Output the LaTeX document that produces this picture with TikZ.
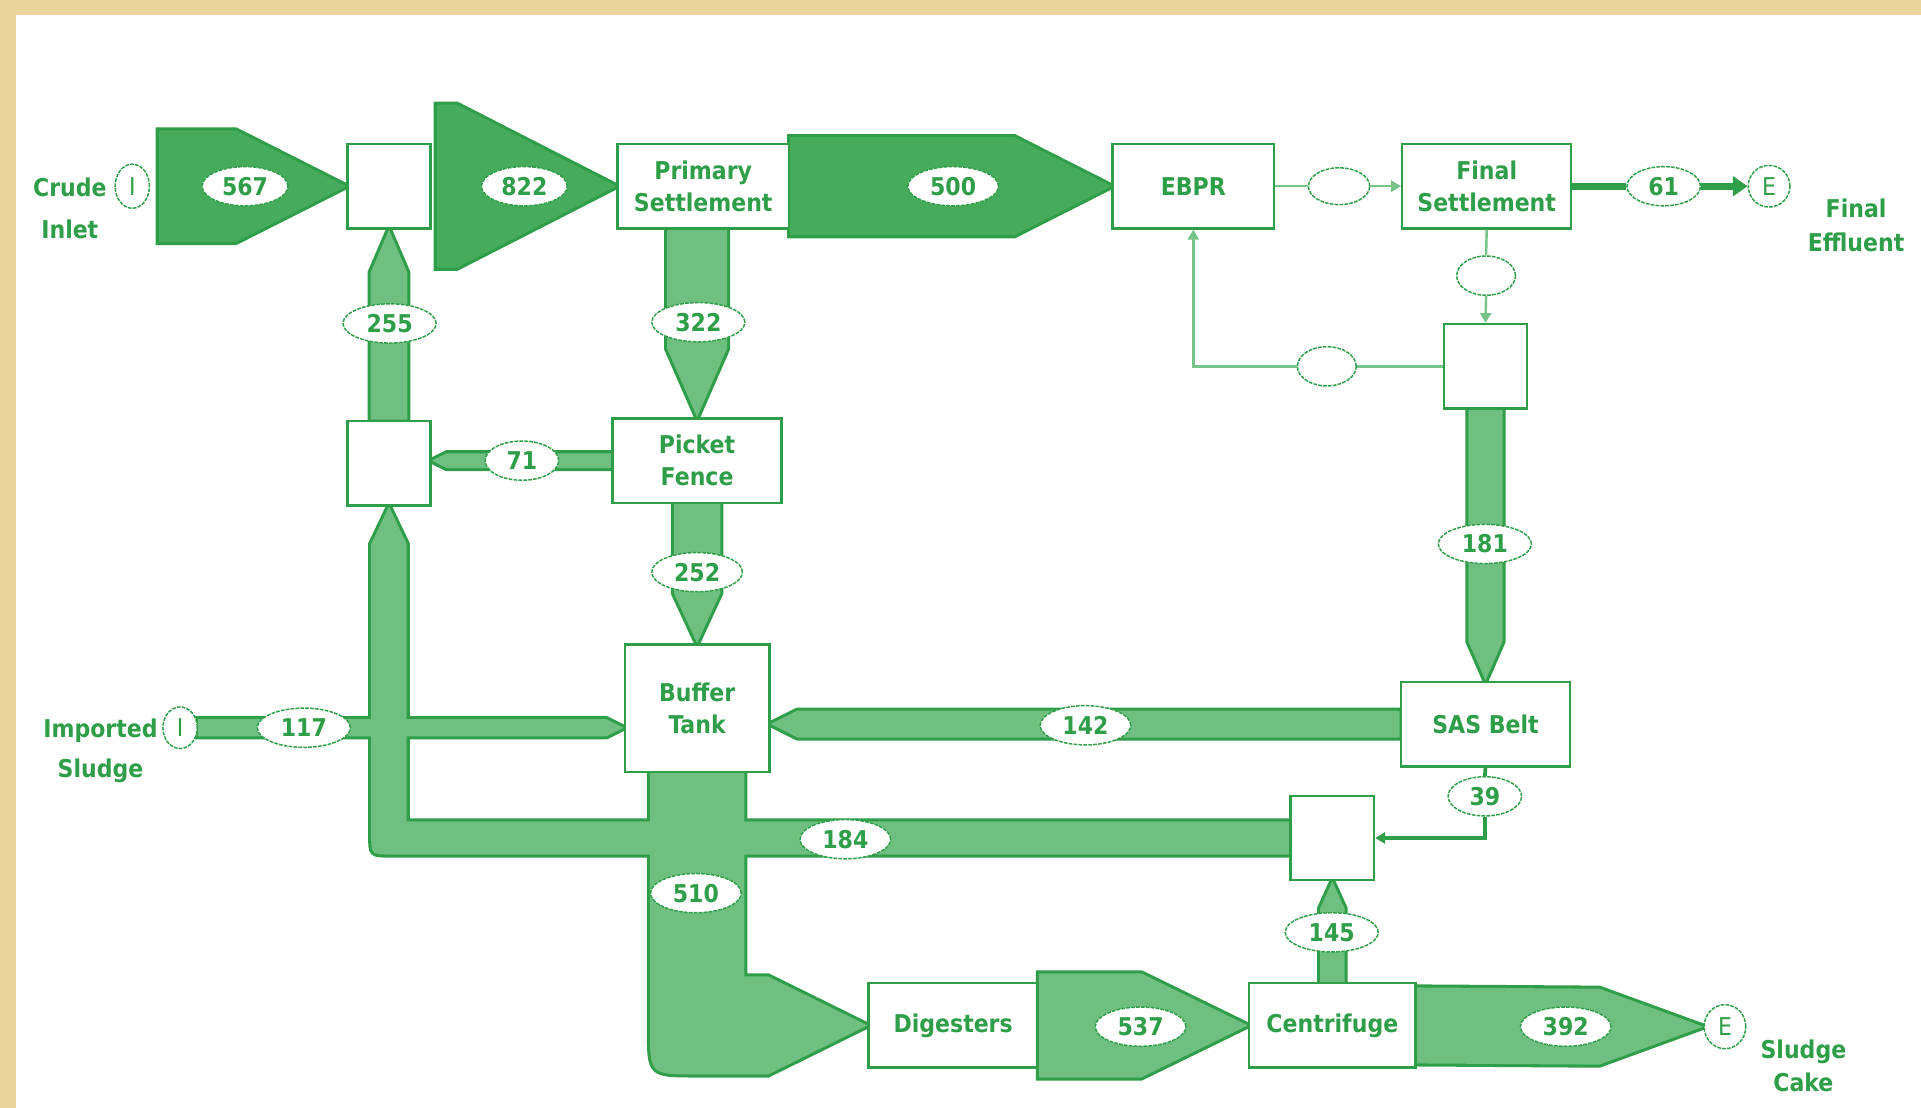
\documentclass[tikz,border=0pt]{standalone}
\usepackage{fontspec}
\setmainfont{DejaVu Sans Condensed}
\usetikzlibrary{shapes.geometric,positioning,calc,arrows.meta}

\definecolor{flowline}{RGB}{46,158,72}
\definecolor{flowdark}{RGB}{70,172,92}
\definecolor{flowlight}{RGB}{110,191,128}
\definecolor{thinline}{RGB}{118,195,136}
\definecolor{parch}{RGB}{234,212,158}

\pgfdeclarelayer{background}
\pgfsetlayers{background,main}

\newcommand{\boxfont}{\fontsize{20}{26}\selectfont\bfseries}

\newcommand{\hflow}[5]{%
  \filldraw[fill=#1, draw=\bandcol, line width=\bandw]
    ($(#2)+(0,-#4)$) -- ($(#3)+(#5,-#4)$) -- (#3) -- ($(#3)+(#5,#4)$) -- ($(#2)+(0,#4)$) -- cycle;}
\newcommand{\vflow}[5]{%
  \filldraw[fill=#1, draw=\bandcol, line width=\bandw]
    ($(#2)+(-#4,0)$) -- ($(#3)+(-#4,#5)$) -- (#3) -- ($(#3)+(#4,#5)$) -- ($(#2)+(#4,0)$) -- cycle;}

\begin{document}
\begin{tikzpicture}[x=1pt, y=-1pt,
    box/.style={draw=flowline, line width=2pt, fill=white, minimum width=138pt,
      minimum height=69pt, inner sep=0pt, align=center, text=flowline, font=\boxfont},
    junc/.style={box, minimum width=68pt},
    lbl/.style={ellipse, draw=flowline, fill=white, line width=1.2pt,
      dash pattern=on 3pt off 1pt, minimum width=74pt, minimum height=32pt,
      inner sep=0pt, text=flowline, font=\boxfont},
    port/.style={lbl, font=\fontsize{20}{24}\selectfont},
    side/.style={text=flowline, align=center, font=\boxfont},
    thinl/.style={draw=thinline, line width=2pt},
    tip/.style={-{Triangle[length=8pt, width=9pt]}}]

    \useasboundingbox (0,0) rectangle (1568,904);

    \node[port, minimum width=28pt, minimum height=36pt] (crudeI) at (108,152) {I};
    \node[port, minimum width=28pt, minimum height=34pt] (impI) at (147,594) {I};
    \node[port, minimum width=34pt, minimum height=34pt] (e1) at (1444,152) {E};
    \node[port, minimum width=34pt, minimum height=36pt] (e2) at (1408,838) {E};

    \node[side] (crude) at (57,170) {Crude\\[8pt]Inlet};
    \node[side] (imported) at (82,613) {Imported\\[7pt]Sludge};
    \node[side] (effluent) at (1515,184) {Final\\[2pt]Effluent};
    \node[side] (cake) at (1472,870) {Sludge\\[1pt]Cake};

    \node[junc] (j1) at (317.5,152) {};
    \node[box, minimum width=140pt] (ps) at (574,152) {Primary\\Settlement};
    \node[box, minimum width=132pt] (ebpr) at (974,152) {EBPR};
    \node[box] (fs) at (1213.5,152) {Final\\Settlement};
    \node[junc] (j2) at (1212.5,299) {};
    \node[junc] (j4) at (317.5,378) {};
    \node[box] (pf) at (569,376) {Picket\\Fence};
    \node[box, minimum width=118pt, minimum height=104pt] (bt) at (569,578) {Buffer\\Tank};
    \node[box] (sas) at (1212.5,591) {SAS Belt};
    \node[junc] (j3) at (1087.5,684) {};
    \node[box] (dig) at (778,837) {Digesters};
    \node[box, minimum width=136pt] (cen) at (1087.5,837) {Centrifuge};

    \coordinate (in567) at ($(crudeI.east)+(7,0)$);
    \coordinate (in822) at ($(j1.east)+(4,0)$);

    \begin{pgfonlayer}{background}
    \fill[parch] (0,0) rectangle (1568,904);
    \fill[white] (13,12) rectangle (1568,904);
    \foreach \pass in {1,2}{
        \ifnum \pass = 1
            \def\bandcol{flowline}\def\bandw{5pt}
        \else
            \def\bandcol{none}\def\bandw{0pt}
        \fi
        \hflow{flowdark}{in567}{j1.west}{45.5}{-90}
        \hflow{flowdark}{in822}{ps.west}{66.5}{-130}
        \hflow{flowdark}{ps.east}{ebpr.west}{40}{-79}
        \vflow{flowlight}{j4.north}{j1.south}{15}{35}
        \vflow{flowlight}{ps.south -| pf.north}{pf.north}{24.5}{-56}
        \hflow{flowlight}{pf.west}{j4.east |- pf.west}{6}{12}
        \vflow{flowlight}{pf.south}{bt.north}{19}{-41}
        \vflow{flowlight}{j2.south}{sas.north}{14}{-32}
        \hflow{flowlight}{sas.west}{bt.east |- sas.west}{11}{22}
        \hflow{flowlight}{impI.east}{bt.west |- impI.east}{7}{-14}
        \vflow{flowlight}{cen.north}{j3.south}{10}{22}
        \hflow{flowlight}{dig.east}{cen.west}{42.5}{-87}
        \hflow{flowlight}{cen.east}{e2.west}{31}{-85}
        \filldraw[fill=flowlight, draw=\bandcol, line width=\bandw]
            ($(j3.west)+(0,-13.5)$) -- (332,670.5) -- (332,444) -- (j4.south)
            -- (303,444) -- (303,682) .. controls (303,697.5) .. (319,697.5)
            -- ($(j3.west)+(0,13.5)$) -- cycle;
        \filldraw[fill=flowlight, draw=\bandcol, line width=\bandw]
            ($(bt.south)+(-38.5,0)$) -- ($(bt.south)+(38.5,0)$) -- (607.5,797)
            -- (627,797) -- (dig.west) -- (627,877) -- (568,877)
            .. controls (530.5,877) .. (530.5,840) -- cycle;
    }
    \end{pgfonlayer}

    \node[lbl, minimum width=50pt, minimum height=30pt] (eA) at (1093,152) {};
    \node[lbl, minimum width=48pt, minimum height=32pt] (eB) at (1213,225) {};
    \node[lbl, minimum width=48pt, minimum height=32pt] (eC) at (1083,299) {};

    \foreach \n/\x/\y/\w in {567/200/152/70, 822/428/152/70, 500/778/152/74,
        255/318/264/76, 322/570/263/76, 71/426/376/60, 252/569/467/74,
        181/1212/444/76, 142/886/592/74, 117/248/594/76, 184/690/685/74,
        510/568/729/74, 145/1087/761/76, 537/931/838/74, 392/1278/838/74,
        61/1358/152/60, 39/1212/650/60}{
        \node[lbl, minimum width=\w pt] (l\n) at (\x,\y) {\n};
    }

    \draw[thinl] (ebpr.east) -- (eA.west);
    \draw[thinl, tip] (eA.east) -- (fs.west);
    \draw[thinl] (fs.south) -- (eB.north);
    \draw[thinl, tip] (eB.south) -- (j2.north);
    \draw[thinl] (j2.west) -- (eC.east);
    \draw[thinl, tip] (eC.west) -| (ebpr.south);
    \draw[draw=flowline, line width=3pt] (sas.south) -- (l39.north);
    \draw[draw=flowline, line width=3pt, tip] (l39.south) |- (j3.east);
    \draw[draw=flowline, line width=6pt] (fs.east) -- (l61.west);
    \draw[draw=flowline, line width=6pt, -{Triangle[length=12pt, width=16pt]}] (l61.east) -- (e1.west);
\end{tikzpicture}
\end{document}
